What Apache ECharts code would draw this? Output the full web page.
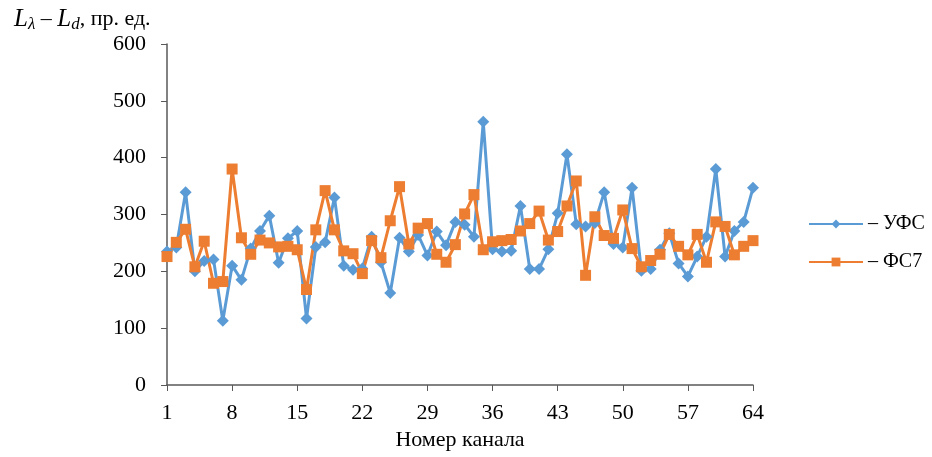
<!DOCTYPE html>
<html>
<head>
<meta charset="utf-8">
<script src="https://cdn.jsdelivr.net/npm/echarts@6/dist/echarts.min.js"></script>
<style>
  html, body { margin: 0; padding: 0; background: #fff; }
  #chart { width: 932px; height: 457px; }
</style>
</head>
<body>
<div id="chart"></div>
<script>
// channel numbers 1..64
const channels = [];
for (let i = 1; i <= 64; i++) channels.push(String(i));

const ufs = [
  235, 242, 339, 200, 218, 221, 113, 210, 185, 240,
  271, 298, 215, 258, 271, 117, 243, 251, 330, 210,
  203, 205, 261, 216, 162, 259, 235, 264, 228, 270,
  246, 287, 282, 261, 463, 239, 235, 236, 315, 204,
  204, 239, 302, 406, 283, 279, 285, 339, 248, 242,
  347, 201, 204, 238, 267, 214, 191, 226, 261, 380,
  226, 271, 287, 347
];

const fs7 = [
  226, 251, 274, 208, 253, 179, 182, 380, 259, 230,
  255, 250, 243, 244, 238, 168, 273, 342, 273, 236,
  231, 196, 254, 224, 289, 349, 248, 276, 284, 230,
  216, 247, 301, 335, 238, 252, 254, 256, 271, 284,
  306, 255, 270, 315, 359, 193, 296, 263, 258, 308,
  240, 208, 219, 230, 265, 244, 229, 265, 216, 287,
  279, 229, 244, 254
];

const yTicks = [0, 100, 200, 300, 400, 500, 600];

const font = "'Liberation Serif', 'Times New Roman', serif";
const axisColor = "#595959";

const chart = echarts.init(document.getElementById("chart"));

const option = {
  backgroundColor: "#fff",
  animation: false,
  textStyle: { fontFamily: font, color: "#000" },
  title: {
    left: 9,
    top: 0,
    text: "{i|L}{s|λ}{n| – }{i|L}{s|d}{n|, пр. ед.}",
    textStyle: {
      rich: {
        i: { fontFamily: font, fontStyle: "italic", fontWeight: "normal", fontSize: 25, color: "#000" },
        s: { fontFamily: font, fontStyle: "italic", fontWeight: "normal", fontSize: 17, color: "#000", padding: [11, 0, 0, 0] },
        n: { fontFamily: font, fontWeight: "normal", fontSize: 22, color: "#000" }
      }
    }
  },
  legend: {
    orient: "vertical",
    left: 803,
    top: 209,
    itemWidth: 54,
    itemHeight: 11,
    itemGap: 18,
    textStyle: { fontFamily: font, fontSize: 20, color: "#000" },
    data: ["– УФС", "– ФС7"]
  },
  grid: {
    left: 167,
    right: 179,
    top: 44,
    bottom: 72
  },
  xAxis: {
    type: "category",
    data: channels,
    boundaryGap: false,
    name: "Номер канала",
    nameLocation: "middle",
    nameGap: 44,
    nameTextStyle: { fontFamily: font, fontSize: 22, color: "#000" },
    axisLine: { lineStyle: { color: axisColor, width: 1.5 } },
    axisTick: { interval: 6, length: 6, lineStyle: { color: axisColor } },
    axisLabel: {
      interval: 6,
      margin: 17,
      fontFamily: font,
      fontSize: 22,
      color: "#000"
    },
    splitLine: { show: false }
  },
  yAxis: {
    type: "value",
    min: yTicks[0],
    max: yTicks[yTicks.length - 1],
    interval: 100,
    axisLine: { show: true, lineStyle: { color: axisColor, width: 1.5 } },
    axisTick: { show: true, length: 6, lineStyle: { color: axisColor } },
    axisLabel: {
      margin: 21,
      fontFamily: font,
      fontSize: 22,
      color: "#000"
    },
    splitLine: { show: false }
  },
  series: [
    {
      name: "– УФС",
      type: "line",
      data: ufs,
      symbol: "diamond",
      symbolSize: 12,
      showAllSymbol: true,
      lineStyle: { color: "#5B9BD5", width: 3 },
      itemStyle: { color: "#5B9BD5" }
    },
    {
      name: "– ФС7",
      type: "line",
      data: fs7,
      symbol: "rect",
      symbolSize: 11,
      showAllSymbol: true,
      lineStyle: { color: "#ED7D31", width: 3 },
      itemStyle: { color: "#ED7D31" }
    }
  ]
};

chart.setOption(option);
</script>
</body>
</html>
